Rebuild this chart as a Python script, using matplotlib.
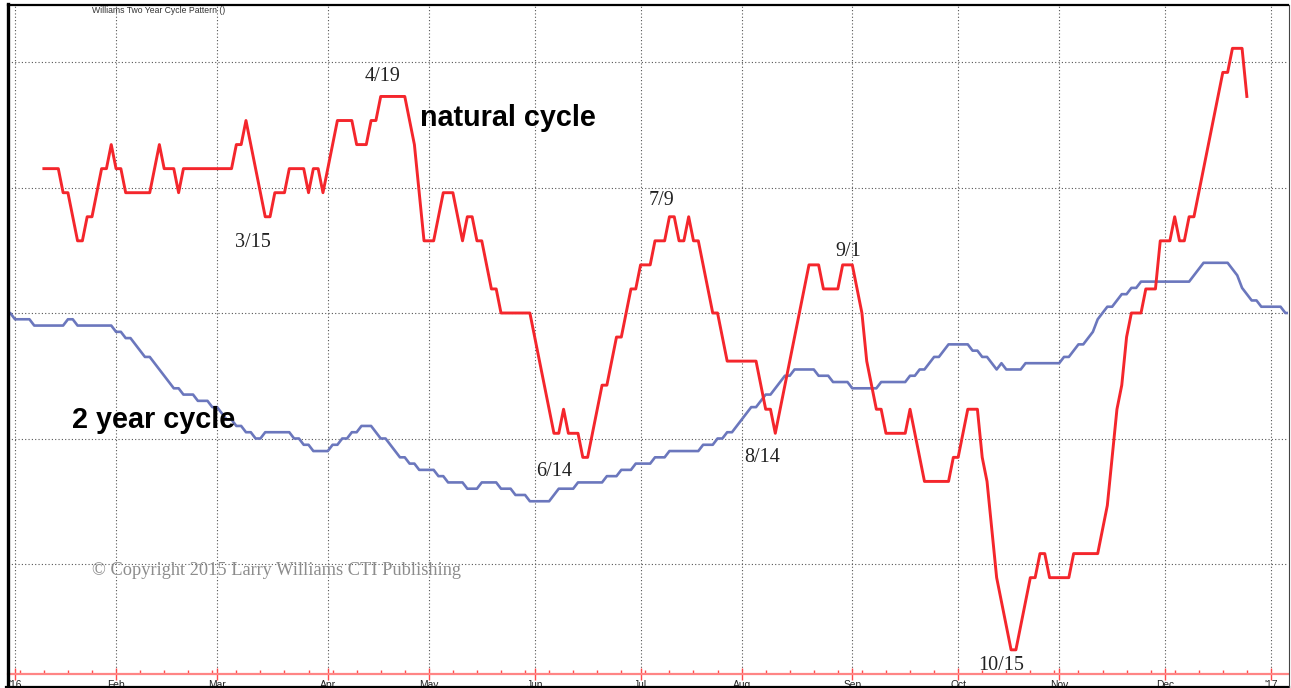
import numpy as np
import matplotlib
matplotlib.use("Agg")
import matplotlib.pyplot as plt
from matplotlib.lines import Line2D

W, H, DPI = 1291, 688, 100

# ---------------- data ----------------
month_labels = ["'16", "Feb", "Mar", "Apr", "May", "Jun", "Jul", "Aug",
                "Sep", "Oct", "Nov", "Dec", "'17"]
month_starts = ["2016-01-01", "2016-02-01", "2016-03-01", "2016-04-01",
                "2016-05-01", "2016-06-01", "2016-07-01", "2016-08-01",
                "2016-09-01", "2016-10-01", "2016-11-01", "2016-12-01",
                "2017-01-01"]

# x = weekday index counted from 2016-01-01
natural_x = [6, 9, 10, 11, 13, 14, 15, 16, 18, 19, 20, 21, 22, 23, 28, 30, 31,
             33, 34, 35, 45, 46, 47, 48, 52, 53, 54, 56, 57, 60, 61, 62, 63, 64,
             67, 70, 71, 73, 74, 75, 76, 81, 83, 85, 87, 89, 91, 93, 94, 95, 96,
             97, 99, 100, 101, 107, 112, 113, 114, 115, 117, 118, 119, 122, 123,
             125, 126, 128, 129, 130, 132, 133, 135, 136, 137, 138, 139, 140,
             141, 142, 145, 146, 148, 154, 156, 157, 158, 165, 167, 168, 171,
             172, 174, 176, 177, 179, 180, 181, 185, 186, 189, 194, 195, 196,
             198, 200, 201, 202, 204, 207, 208, 211, 212, 213, 214, 215, 219,
             220, 225, 227, 229, 230, 231, 232, 234, 235, 237, 238, 240, 241,
             242, 243, 244, 245, 251, 252, 253, 255, 256]
natural_y = [6, 6, 5, 5, 3, 3, 4, 4, 6, 6, 7, 6, 6, 5, 5, 7, 6,
             6, 5, 6, 6, 7, 7, 8, 4, 4, 5, 5, 6, 6, 5, 6, 6, 5,
             8, 8, 7, 7, 8, 8, 9, 9, 7, 3, 3, 5, 5, 3, 4, 4, 3,
             3, 1, 1, 0, 0, -5, -5, -4, -5, -5, -6, -6, -3, -3,
             -1, -1, 1, 1, 2, 2, 3, 3, 4, 4, 3, 3, 4,
             3, 3, 0, 0, -2, -2, -4, -4, -5, 2, 2, 1, 1,
             2, 2, 0, -2, -4, -4, -5, -5, -4, -7, -7, -6, -6,
             -4, -4, -6, -7, -11, -14, -14, -11, -11, -10, -10, -11, -11,
             -10, -10, -8, -4, -3, -1, 0, 0, 1, 1, 3, 3, 4,
             3, 3, 4, 4, 10, 10, 11, 11, 9]

two_year_x = [-2, -1, 0, 3, 4, 10, 11, 12, 13, 20, 21, 22, 23, 24, 27, 28, 33,
              34, 35, 37, 38, 40, 41, 42, 43, 44, 45, 46, 47, 48, 49, 50, 51,
              52, 57, 58, 59, 60, 61, 62, 65, 66, 67, 68, 69, 70, 71, 72, 74,
              76, 77, 80, 81, 82, 83, 84, 87, 88, 89, 90, 93, 94, 96, 97, 100,
              101, 103, 104, 106, 107, 111, 113, 116, 117, 122, 123, 125, 126,
              128, 129, 132, 133, 135, 136, 142, 143, 145, 146, 147, 148, 149,
              151, 152, 153, 154, 156, 157, 160, 161, 162, 166, 167, 169, 170,
              173, 174, 179, 180, 185, 186, 187, 188, 189, 191, 192, 194, 198,
              199, 200, 201, 202, 204, 205, 206, 209, 210, 217, 218, 219, 221,
              222, 224, 225, 227, 228, 230, 231, 232, 233, 234, 244, 247, 252,
              254, 255, 257, 258, 259, 263, 264, 266]
two_year_y = [0, 0, -1, -1, -2, -2, -1, -1, -2, -2, -3, -3, -4, -4, -7, -7, -12,
              -12, -13, -13, -14, -14, -15, -15, -16, -17, -17, -18, -18, -19, -19, -20, -20,
              -19, -19, -20, -20, -21, -21, -22, -22, -21, -21, -20, -20, -19, -19, -18, -18,
              -20, -20, -23, -23, -24, -24, -25, -25, -26, -26, -27, -27, -28, -28, -27, -27,
              -28, -28, -29, -29, -30, -30, -28, -28, -27, -27, -26, -26, -25,
              -25, -24, -24, -23, -23, -22, -22, -21, -21, -20, -20, -19, -19,
              -17, -16, -15, -15, -13, -13, -10, -10, -9, -9, -10, -10, -11,
              -11, -12, -12, -11, -11, -10, -10, -9, -9, -7, -7, -5, -5,
              -6, -6, -7, -7, -9, -8, -9, -9, -8, -8, -7, -7, -5,
              -5, -3, -1, 1, 1, 3, 3, 4, 4, 5, 5, 8, 8,
              6, 4, 2, 2, 1, 1, 0, 0]

annotation_labels = ["3/15", "4/19", "6/14", "7/9", "8/14", "9/1", "10/15"]

# ---------------- drawing ----------------
month_pos = np.busday_count("2016-01-01", month_starts)
week_pos = np.arange(1, 266, 5)

fig = plt.figure(figsize=(W / DPI, H / DPI), dpi=DPI)
fig.patch.set_facecolor("white")

ax_left, ax_right, ax_top, ax_bottom = 8, 1288, 5, 674
ax = fig.add_axes([ax_left / W, (H - ax_bottom) / H,
                   (ax_right - ax_left) / W, (ax_bottom - ax_top) / H])

# pixel -> data scale: weekday i at px 15 + 4.812*i; levels 0 at py 313
px_per_day = 4.812
x0 = 15.0
ax.set_xlim((ax_left - x0) / px_per_day, (ax_right - x0) / px_per_day)
blue_step = 6.275
red_step = 24.06
ax.set_ylim((313 - ax_bottom) / blue_step, (313 - ax_top) / blue_step)

ax.set_yticks([-40, -20, 0, 20, 40])
ax.tick_params(axis="y", length=0, labelleft=False)
ax.set_xticks(month_pos)
ax.set_xticklabels(month_labels, fontfamily="Liberation Sans", fontsize=7.4,
                   color="#222222")
ax.set_xticks(week_pos, minor=True)
ax.tick_params(axis="x", which="major", direction="inout", length=8,
               width=1.0, color="#ff4a4a", pad=0.3)
ax.tick_params(axis="x", which="minor", direction="in", length=3,
               width=1.0, color="#ff4a4a")
ax.grid(True, which="major", linestyle=(0, (1, 2)), color="#555555", lw=0.8)
ax.set_axisbelow(True)

for s in ["left", "right"]:
    ax.spines[s].set_visible(False)
ax.spines["top"].set_color("black")
ax.spines["top"].set_linewidth(1.6)
ax.spines["bottom"].set_color("#ff8585")
ax.spines["bottom"].set_linewidth(1.6)

ax.plot(two_year_x, two_year_y, color="#6b77bd", lw=1.9, zorder=3)

ax2 = ax.twinx()
ax2.set_ylim((313 - ax_bottom) / red_step, (313 - ax_top) / red_step)
ax2.set_xlim(ax.get_xlim())
ax2.axis("off")
ax2.plot(natural_x, natural_y, color="#f4262c", lw=2.1, zorder=4)

# figure frame
fig.add_artist(Line2D([7.5 / W, 7.5 / W], [0, 1 - 4 / H], color="black", lw=2.4))
fig.add_artist(Line2D([6 / W, 1289 / W], [1 - 687 / H, 1 - 687 / H], color="black", lw=1.6))
fig.add_artist(Line2D([1288.5 / W, 1288.5 / W], [1 - 687 / H, 1 - 5 / H], color="#444444", lw=0.8))


def ftext(px, py, s, **kw):
    fig.text(px / W, 1 - py / H, s, **kw)


ftext(92, 10.5, "Williams Two Year Cycle Pattern ()", fontsize=6.2,
      fontfamily="Liberation Sans", color="#333333", va="center", ha="left")
ftext(420, 126.5, "natural cycle", fontsize=20.7, fontweight="bold",
      fontfamily="Liberation Sans", color="black", va="baseline", ha="left")
ftext(72, 427.5, "2 year cycle", fontsize=20.7, fontweight="bold",
      fontfamily="Liberation Sans", color="black", va="baseline", ha="left")

ann_pos = [(252.5, 247.5), (382.5, 81), (554, 476.5), (661, 205),
           (762, 462.5), (848, 256), (1001, 670)]
for lab, (px, py) in zip(annotation_labels, ann_pos):
    ftext(px, py, lab, fontsize=14.5, fontfamily="Liberation Serif",
          color="#222222", va="baseline", ha="center")

ftext(92.5, 575, "\u00a9 Copyright 2015 Larry Williams CTI Publishing",
      fontsize=13.2, fontfamily="Liberation Serif", color="#8c8c8c",
      va="baseline", ha="left")

fig.savefig("out.png", dpi=DPI)
